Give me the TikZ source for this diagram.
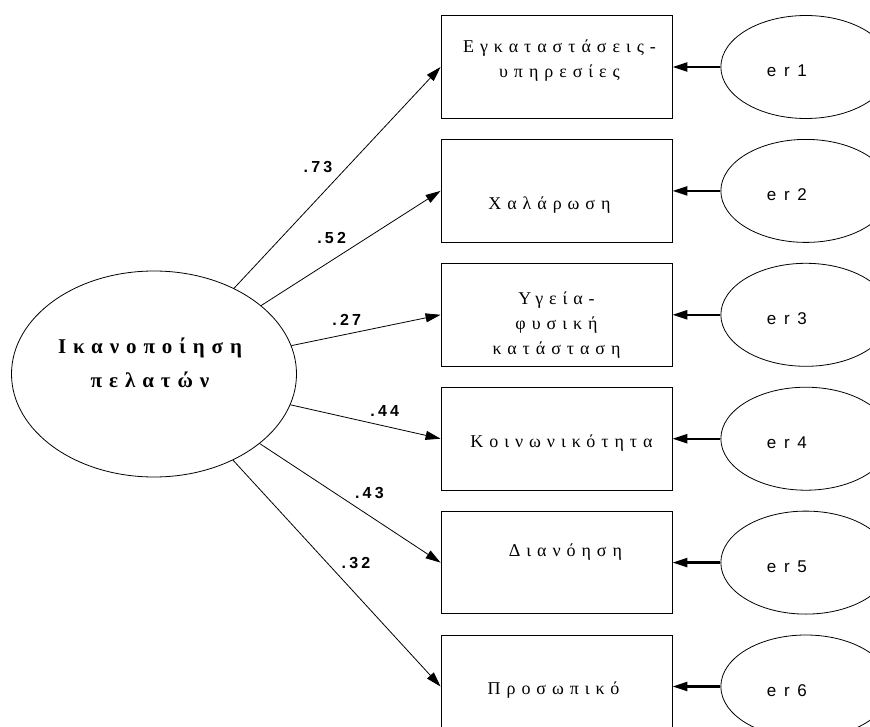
\documentclass[tikz,border=0pt]{standalone}
\usepackage{fontspec}
\setmainfont{Liberation Serif}
\setsansfont{Liberation Sans}
\newfontfamily\grfont[LetterSpace=33]{Liberation Serif}
\newfontfamily\erfont[LetterSpace=45]{Liberation Sans}
\newfontfamily\ldfont[LetterSpace=20]{Liberation Sans}
\usepackage{tikz}
\usetikzlibrary{positioning}
\usetikzlibrary{arrows.meta}
\usetikzlibrary{shapes.geometric}
\tikzset{node distance=20.5pt,
    obsbox/.style={
        draw,
        line width=0.9pt,
        minimum width=231pt,
        minimum height=102.5pt},
    latent/.style={
        draw,
        ellipse,
        line width=0.8pt,
        minimum width=285pt,
        minimum height=206pt},
    errellipse/.style={
        draw,
        ellipse,
        line width=0.8pt,
        minimum width=170pt,
        minimum height=103pt},
    obstext/.style={
        font=\grfont\fontsize{18}{25}\selectfont,
        align=center,
        inner sep=0pt},
    lattext/.style={
        font=\grfont\bfseries\fontsize{21}{34}\selectfont,
        align=center,
        inner sep=0pt},
    errtext/.style={
        font=\erfont\fontsize{17}{20}\selectfont,
        inner sep=0pt},
    loading/.style={
        font=\ldfont\bfseries\fontsize{16}{18}\selectfont,
        inner sep=4.5pt},
    residual/.style={
        line width=2.4pt},
    every edge/.style={
        draw,
        -{Triangle[length=15pt,width=9pt]},
        auto,
        line width=0.8pt}}

\begin{document}
\begin{tikzpicture}[x=1pt,y=-1pt]
        \useasboundingbox (0,0) rectangle (870,727);
        \clip (0,0) rectangle (870,727);

        \node[latent] (sat) at (154,374) {};
        \node[lattext] (sattext) at ([xshift=-4pt,yshift=11pt]sat.center) {Ικανοποίηση\\πελατών};

        \node[obsbox] (b1) at (556.5,67) {};
        \node[obsbox,below=of b1] (b2) {};
        \node[obsbox,below=of b2] (b3) {};
        \node[obsbox,below=of b3] (b4) {};
        \node[obsbox,below=of b4] (b5) {};
        \node[obsbox,below=of b5] (b6) {};

        \node[obstext] (t1) at ([xshift=3pt,yshift=6pt]b1.center) {Εγκαταστάσεις-\\υπηρεσίες};
        \node[obstext] (t2) at ([xshift=-7pt,yshift=-14pt]b2.center) {Χαλάρωση};
        \node[obstext] (t3) at ([yshift=-10pt]b3.center) {Υγεία-\\φυσική\\κατάσταση};
        \node[obstext] (t4) at ([xshift=5pt,yshift=-4pt]b4.center) {Κοινωνικότητα};
        \node[obstext] (t5) at ([xshift=9pt,yshift=11pt]b5.center) {Διανόηση};
        \node[obstext] (t6) at ([xshift=-3pt,yshift=-4pt]b6.center) {Προσωπικό};

        \node[errellipse,right=48pt of b1] (e1) {};
        \node[errellipse,right=48pt of b2] (e2) {};
        \node[errellipse,right=48pt of b3] (e3) {};
        \node[errellipse,right=48pt of b4] (e4) {};
        \node[errellipse,right=48pt of b5] (e5) {};
        \node[errellipse,right=48pt of b6] (e6) {};

        \node[errtext] (et1) at ([xshift=-19pt,yshift=-4pt]e1.center) {er1};
        \node[errtext] (et2) at ([xshift=-19pt,yshift=-4pt]e2.center) {er2};
        \node[errtext] (et3) at ([xshift=-19pt,yshift=-4pt]e3.center) {er3};
        \node[errtext] (et4) at ([xshift=-19pt,yshift=-4pt]e4.center) {er4};
        \node[errtext] (et5) at ([xshift=-19pt,yshift=-4pt]e5.center) {er5};
        \node[errtext] (et6) at ([xshift=-19pt,yshift=-4pt]e6.center) {er6};

        \draw (sat) edge node[loading] {.73} (b1.west);
        \draw (sat) edge node[loading] {.52} (b2.west);
        \draw (sat) edge node[loading] {.27} (b3.west);
        \draw (sat) edge node[loading] {.44} (b4.west);
        \draw (sat) edge node[loading] {.43} (b5.west);
        \draw (sat) edge node[loading] {.32} (b6.west);

        %\draw (e1) edge[residual,bend left] (b1);
        \draw (e1) edge[residual] (b1);
        \draw (e2) edge[residual] (b2);
        \draw (e3) edge[residual] (b3);
        \draw (e4) edge[residual] (b4);
        \draw (e5) edge[residual] (b5);
        \draw (e6) edge[residual] (b6);
    \end{tikzpicture}
\end{document}
